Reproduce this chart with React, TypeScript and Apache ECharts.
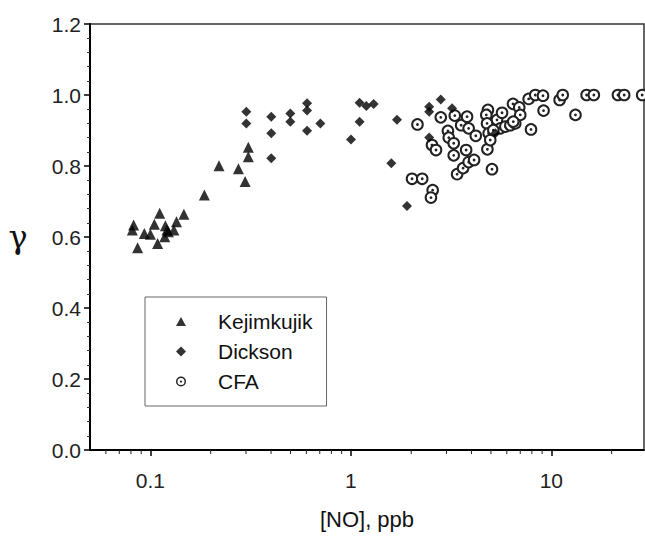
import React, { useEffect, useRef } from 'react';
import * as echarts from 'echarts';

// Kejimkujik site
const kejNO = [0.0825, 0.0813, 0.0864, 0.0933, 0.1, 0.1047, 0.1113, 0.1087, 0.1188, 0.121, 0.118, 0.131, 0.135, 0.147, 0.123, 0.186, 0.22, 0.275, 0.297, 0.308, 0.308];
const kejGamma = [0.634, 0.62, 0.57, 0.61, 0.608, 0.636, 0.667, 0.582, 0.632, 0.62, 0.601, 0.62, 0.643, 0.664, 0.615, 0.718, 0.801, 0.792, 0.756, 0.853, 0.826];

// Dickson site
const dicNO = [0.301, 0.301, 0.401, 0.401, 0.401, 0.499, 0.499, 0.605, 0.605, 0.605, 0.705, 1.002, 1.106, 1.106, 1.195, 1.299, 1.7, 1.592, 1.907, 2.81, 2.46, 2.46, 2.46, 3.2, 5.26];
const dicGamma = [0.953, 0.92, 0.939, 0.892, 0.822, 0.948, 0.925, 0.977, 0.956, 0.899, 0.92, 0.875, 0.978, 0.925, 0.969, 0.975, 0.93, 0.808, 0.687, 0.987, 0.967, 0.953, 0.88, 0.963, 0.892];

// CFA site
const cfaNO = [2.15, 2.02, 2.27, 2.56, 2.51, 2.54, 2.66, 2.81, 3.05, 3.08, 3.3, 3.26, 3.26, 3.39, 3.55, 3.63, 3.76, 3.8, 3.87, 3.87, 4.12, 4.2, 4.83, 4.74, 4.78, 4.87, 4.8, 5.06, 4.96, 5.36, 5.68, 5.57, 5.9, 6.25, 6.44, 6.61, 6.92, 7.0, 7.92, 7.71, 8.32, 9.09, 9.15, 11.0, 11.4, 13.2, 15.0, 16.3, 21.5, 23.1, 28.4, 5.14, 6.46];
const cfaGamma = [0.917, 0.764, 0.764, 0.732, 0.711, 0.859, 0.845, 0.937, 0.899, 0.88, 0.942, 0.864, 0.83, 0.777, 0.915, 0.794, 0.845, 0.939, 0.906, 0.811, 0.817, 0.885, 0.958, 0.944, 0.92, 0.892, 0.847, 0.791, 0.873, 0.93, 0.95, 0.906, 0.911, 0.915, 0.975, 0.92, 0.965, 0.944, 0.903, 0.989, 1.0, 0.998, 0.956, 0.986, 1.0, 0.944, 1.0, 1.0, 1.0, 1.0, 1.0, 0.901, 0.925];

// minor tick positions of the log x axis
const xMinorTicks = [0.06, 0.07, 0.08, 0.09, 0.2, 0.3, 0.4, 0.5, 0.6, 0.7, 0.8, 0.9, 2, 3, 4, 5, 6, 7, 8, 9, 20];

const seriesNames = ['Kejimkujik', 'Dickson', 'CFA'];
const xAxisTitle = '[NO], ppb';
const yAxisTitle = 'γ';

const FONT = '"Liberation Sans", Arial, sans-serif';
const RING_ICON = 'path://M12 0A12 12 0 1 1 12 24A12 12 0 1 1 12 0ZM12 3.5A8.5 8.5 0 1 0 12 20.5A8.5 8.5 0 1 0 12 3.5ZM12 9.3A2.7 2.7 0 1 1 12 14.7A2.7 2.7 0 1 1 12 9.3Z';
const TRI_ICON = 'path://M5 0L10 9L0 9Z';
const DIA_ICON = 'path://M5 0L10 5L5 10L0 5Z';

const pairs = (xs: number[], ys: number[]) => xs.map((x, i) => [x, ys[i]]);

export default function App() {
  const ref = useRef<HTMLDivElement>(null);
  useEffect(() => {
    document.body.style.margin = '0';
    const chart = echarts.init(ref.current!, null, { renderer: 'svg' });
    const option: any = {
      animation: false,
      backgroundColor: '#fff',
      grid: {
        left: 90, top: 24, right: 1, bottom: 87,
        show: true, borderColor: '#333', borderWidth: 1.5, backgroundColor: 'transparent',
      },
      legend: {
        orient: 'vertical', left: 145, top: 297,
        padding: [14, 14, 14, 31],
        borderColor: '#666', borderWidth: 1,
        itemWidth: 10, itemHeight: 10, itemGap: 9,
        textStyle: { fontSize: 21, fontFamily: FONT, color: '#111', padding: [0, 0, 0, 27] },
        data: [
          { name: seriesNames[0], icon: TRI_ICON },
          { name: seriesNames[1], icon: DIA_ICON },
          { name: seriesNames[2], icon: RING_ICON },
        ],
        selectedMode: false,
      },
      xAxis: {
        type: 'log', logBase: 10, min: 0.05, max: 29,
        name: xAxisTitle, nameLocation: 'middle', nameGap: 69,
        nameTextStyle: { fontSize: 22, fontFamily: FONT, color: '#111', verticalAlign: 'middle' },
        axisLine: { show: true, lineStyle: { color: '#000', width: 2 } },
        axisTick: { show: true, length: 6, lineStyle: { color: '#000', width: 1.5 } },
        minorTick: { show: false },
        splitLine: { show: false },
        axisLabel: {
          fontSize: 21, fontFamily: FONT, color: '#222', margin: 20,
          showMinLabel: false, showMaxLabel: false,
          formatter: (v: number) => String(Number(v.toPrecision(3))),
        },
      },
      yAxis: {
        type: 'value', min: 0, max: 1.2, interval: 0.2,
        name: yAxisTitle, nameLocation: 'middle', nameGap: 72, nameRotate: 0,
        nameTextStyle: { fontSize: 32, fontFamily: '"DejaVu Serif", "Liberation Serif", serif', color: '#111', align: 'center', verticalAlign: 'middle' },
        axisLine: { show: true, lineStyle: { color: '#000', width: 2 } },
        axisTick: { show: true, length: 6, lineStyle: { color: '#000', width: 1.5 } },
        minorTick: { show: true, splitNumber: 5, length: 3, lineStyle: { color: '#333', width: 1 } },
        splitLine: { show: false },
        axisLabel: {
          fontSize: 21, fontFamily: FONT, color: '#222', margin: 9,
          formatter: (v: number) => v.toFixed(1),
        },
      },
      series: [
        {
          name: seriesNames[0], type: 'scatter', symbol: 'triangle', symbolSize: 11,
          itemStyle: { color: '#000' },
          data: pairs(kejNO, kejGamma),
        },
        {
          name: seriesNames[1], type: 'scatter', symbol: 'diamond', symbolSize: 10,
          itemStyle: { color: '#000' },
          data: pairs(dicNO, dicGamma),
        },
        {
          name: seriesNames[2], type: 'custom', clip: false,
          itemStyle: { color: '#222' },
          encode: { x: 0, y: 1 },
          data: pairs(cfaNO, cfaGamma),
          renderItem: (_p: any, api: any) => {
            const c = api.coord([api.value(0), api.value(1)]);
            return {
              type: 'group',
              children: [
                { type: 'circle', shape: { cx: c[0], cy: c[1], r: 5.3 }, style: { fill: '#fff', stroke: '#222', lineWidth: 2 } },
                { type: 'circle', shape: { cx: c[0], cy: c[1], r: 1.4 }, style: { fill: '#222' } },
              ],
            };
          },
        },
        {
          name: 'minorTicks', type: 'custom', clip: false, silent: true,
          data: xMinorTicks.map((v) => [v, 0]),
          encode: { x: 0, y: 1 },
          renderItem: (_p: any, api: any) => {
            const c = api.coord([api.value(0), 0]);
            return {
              type: 'line',
              shape: { x1: c[0], y1: c[1], x2: c[0], y2: c[1] + 4 },
              style: { stroke: '#222', lineWidth: 1 },
            };
          },
        },
      ],
    };
    chart.setOption(option);
    return () => chart.dispose();
  }, []);
  return <div ref={ref} style={{ width: 645, height: 537 }} />;
}
